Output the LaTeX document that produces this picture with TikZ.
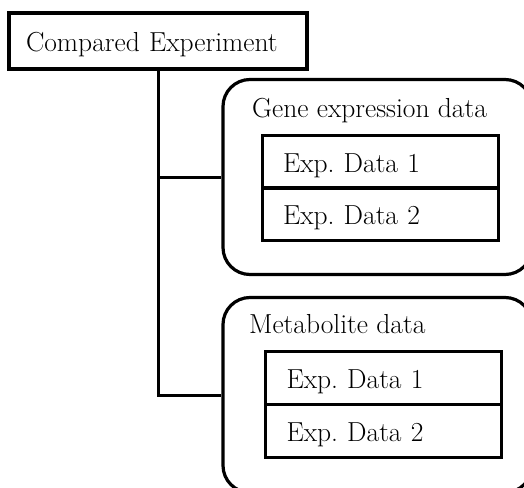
\documentclass[tikz,border=0pt]{standalone}
\begin{document}
\frenchspacing
\begin{tikzpicture}[x=1pt,y=-1pt,
  every node/.style={font=\fontsize{27.5}{32}\selectfont},
  rootbox/.style={draw, line width=4pt, inner xsep=17pt, text width=264pt, minimum height=56pt, text height=24pt, text depth=2pt, align=left},
  container/.style={draw, line width=3.2pt, rounded corners=27pt, minimum width=309pt, minimum height=195pt, inner sep=0pt},
  cell/.style={draw, line width=3pt, inner xsep=21pt, text width=194pt, minimum height=53pt, text height=23pt, text depth=2pt, align=left},
  lbl/.style={inner sep=0pt, anchor=base west},
  conn/.style={line width=3pt}]
\clip (0,0) rectangle (524,487);
\node[rootbox] (root) at (158,41) {Compared Experiment};
\node[container] (gene) at (377.5,177) {};
\node[container] (metab) at (377.5,395) {};
\node[lbl] (genelbl) at (252,117) {Gene expression data};
\node[lbl] (metablbl) at (249,333) {Metabolite data};
\node[cell] (g1) at (380,161.5) {Exp. Data 1};
\node[cell] (g2) at (380,214) {Exp. Data 2};
\node[cell] (m1) at (383.5,377.5) {Exp. Data 1};
\node[cell] (m2) at (383.5,430.5) {Exp. Data 2};
\draw[conn] (root.south) |- (metab.west);
\draw[conn] (root.south |- gene.west) -- (gene.west);
\end{tikzpicture}
\end{document}
